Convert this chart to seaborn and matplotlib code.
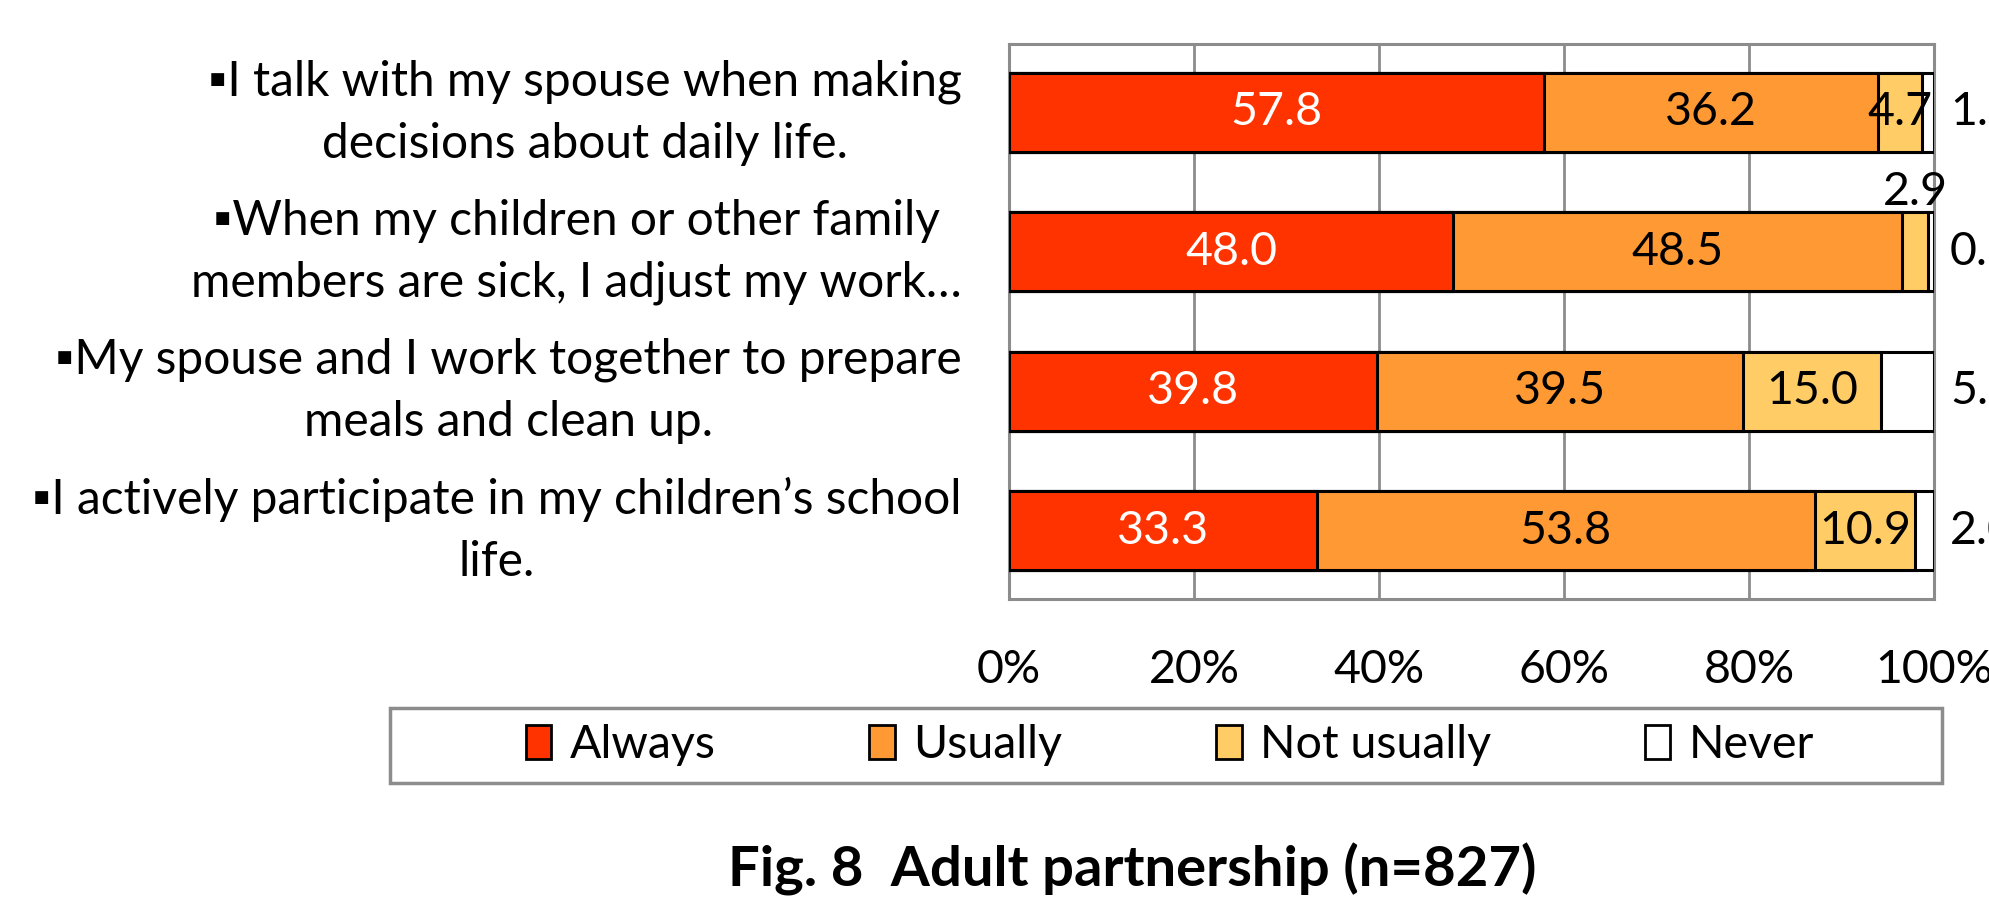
import matplotlib
matplotlib.use("Agg")
import matplotlib.pyplot as plt
import seaborn as sns
import numpy as np
import pandas as pd
from matplotlib.patches import Patch, Rectangle

# ---- data ----
questions = [
    "▪I talk with my spouse when making\ndecisions about daily life.",
    "▪When my children or other family\nmembers are sick, I adjust my work…",
    "▪My spouse and I work together to prepare\nmeals and clean up.",
    "▪I actively participate in my children’s school\nlife.",
]
categories = ["Always", "Usually", "Not usually", "Never"]
always = [57.8, 48.0, 39.8, 33.3]
usually = [36.2, 48.5, 39.5, 53.8]
not_usually = [4.7, 2.9, 15.0, 10.9]
never = [1.3, 0.6, 5.7, 2.0]
colors = ["#FF3300", "#FF9933", "#FFCC66", "#FFFFFF"]
xticks = [0, 20, 40, 60, 80, 100]
xticklabels = ["0%", "20%", "40%", "60%", "80%", "100%"]
title = "Fig. 8  Adult partnership (n=827)"

sns.set_theme(style="white")
plt.rcParams["font.family"] = ["Lato", "DejaVu Sans"]
plt.rcParams["text.color"] = "black"
plt.rcParams["xtick.color"] = "black"
plt.rcParams["ytick.color"] = "black"
FS = 33.5
FSY = 34.5

fig = plt.figure(figsize=(19.9, 8.99), dpi=100)
ax = fig.add_axes([1009/1990, 1 - 599/899, (1934-1009)/1990, (599-44)/899])

series = [always, usually, not_usually, never]
cum = np.cumsum(np.array(series), axis=0)
# draw from full stack down so edges mark each segment
for i in range(3, -1, -1):
    d = pd.DataFrame({"q": questions, "v": cum[i]})
    sns.barplot(data=d, x="v", y="q", orient="h", color=colors[i],
                saturation=1, edgecolor="black", linewidth=2.2,
                width=0.565, ax=ax, zorder=3)

ax.set_xlim(0, 100)
ax.set_ylim(3.49, -0.49)
ax.set_xlabel("")
ax.set_ylabel("")
ax.set_xticks(xticks)
ax.set_xticklabels(xticklabels, fontsize=FS, color="black")
ax.tick_params(axis="x", length=0, pad=36)
ax.tick_params(axis="y", length=0, pad=34)
ax.set_yticks(range(len(questions)))
ax.set_yticklabels(questions, fontsize=FSY, multialignment="center",
                   linespacing=1.5, color="black")
for t in ax.get_yticklabels():
    t.set_va("center")
ax.grid(axis="x", color="#8C8C8C", linewidth=2, zorder=0)
ax.grid(axis="y", visible=False)
for s in ax.spines.values():
    s.set_color("#8C8C8C")
    s.set_linewidth(2.2)
    s.set_visible(True)

# data labels
for r in range(len(questions)):
    for i in range(4):
        val = series[i][r]
        center = cum[i][r] - val / 2
        txt = f"{val:.1f}"
        if i == 0:
            ax.text(center, r, txt, ha="center", va="center", color="white",
                    fontsize=FS, zorder=5)
        elif i == 3:
            ax.annotate(txt, xy=(100, r), xytext=(16, 0), textcoords="offset pixels",
                        ha="left", va="center", color="black", fontsize=FS,
                        annotation_clip=False, zorder=5)
        elif val < 4:
            ax.annotate(txt, xy=(center, r - 0.28), xytext=(0, 0),
                        textcoords="offset pixels", ha="center", va="bottom",
                        color="black", fontsize=FS, annotation_clip=False, zorder=5)
        else:
            ax.text(center, r, txt, ha="center", va="center", color="black",
                    fontsize=FS, zorder=5)

# legend with separate frame
fig.patches.append(Rectangle((390/1990, 1 - 783/899), 1552/1990, 75/899,
                             transform=fig.transFigure, facecolor="white",
                             edgecolor="#8C8C8C", linewidth=2.5, zorder=0))
handles = [Patch(facecolor=c, edgecolor="black", linewidth=2) for c in colors]
fig.legend(handles, categories, loc="center", bbox_to_anchor=(1170/1990, 1 - 745/899),
           ncol=4, frameon=False, fontsize=FS, handlelength=0.55, handleheight=0.75,
           handletextpad=0.4, columnspacing=3.3)

fig.text(1132/1990, 1 - 869/899, title, ha="center", va="center",
         fontsize=40.5, fontweight="bold")

fig.savefig("out.png", dpi=100)
